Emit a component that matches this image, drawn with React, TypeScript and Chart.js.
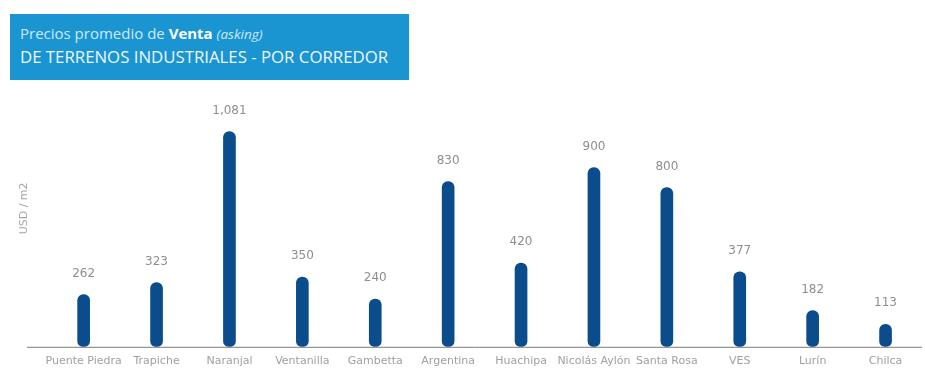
import React, { useEffect, useRef } from "react";
import { Chart, registerables } from "chart.js";

Chart.register(...registerables);

const categories = [
  "Puente Piedra",
  "Trapiche",
  "Naranjal",
  "Ventanilla",
  "Gambetta",
  "Argentina",
  "Huachipa",
  "Nicolás Aylón",
  "Santa Rosa",
  "VES",
  "Lurín",
  "Chilca",
];

const prices = [262, 323, 1081, 350, 240, 830, 420, 900, 800, 377, 182, 113];

const yAxisTitle = "USD / m2";

const BAR_COLOR = "#0b4d8c";
const LABEL_COLOR = "#8e8e8e";

const valueLabels = {
  id: "valueLabels",
  afterDatasetsDraw(chart: any) {
    const ctx = chart.ctx;
    const meta = chart.getDatasetMeta(0);
    ctx.save();
    ctx.font = "12px 'DejaVu Sans'";
    ctx.fillStyle = LABEL_COLOR;
    ctx.textAlign = "center";
    ctx.textBaseline = "middle";
    meta.data.forEach((bar: any, i: number) => {
      const v = chart.data.datasets[0].data[i] as number;
      ctx.fillText(v.toLocaleString("en-US"), bar.x, bar.y - 21);
    });
    ctx.restore();
  },
};

const baseLine = {
  id: "baseLine",
  afterDraw(chart: any) {
    const ctx = chart.ctx;
    const { right, bottom } = chart.chartArea;
    ctx.save();
    ctx.strokeStyle = "#7a7a7a";
    ctx.lineWidth = 1;
    ctx.beginPath();
    ctx.moveTo(27, bottom + 0.5);
    ctx.lineTo(right, bottom + 0.5);
    ctx.stroke();
    ctx.restore();
  },
};

export default function App() {
  const ref = useRef<HTMLCanvasElement>(null);

  useEffect(() => {
    document.body.style.margin = "0";
    const chart = new Chart(ref.current!, {
      type: "bar",
      data: {
        labels: categories,
        datasets: [
          {
            data: prices,
            backgroundColor: BAR_COLOR,
            barThickness: 12,
            borderRadius: 6,
            borderSkipped: false,
          },
        ],
      },
      options: {
        responsive: false,
        animation: false,
        devicePixelRatio: 1,
        layout: { padding: { top: 70, left: 13, right: 3, bottom: -2 } },
        plugins: {
          legend: { display: false },
          tooltip: { enabled: false },
        },
        scales: {
          x: {
            grid: { display: false, drawTicks: false },
            border: { display: false },
            ticks: {
              autoSkip: false,
              maxRotation: 0,
              minRotation: 0,
              padding: 8,
              color: "#a0a0a0",
              font: { family: "'DejaVu Sans'", size: 11 },
            },
          },
          y: {
            min: 0,
            max: 1390,
            grid: { display: false, drawTicks: false },
            border: { display: false },
            ticks: { display: false },
            title: {
              display: true,
              text: yAxisTitle,
              color: "#a5a5a5",
              font: { family: "'DejaVu Sans'", size: 11 },
              padding: { top: 5, bottom: 16 },
            },
          },
        },
      },
      plugins: [valueLabels, baseLine],
    });
    return () => chart.destroy();
  }, []);

  return (
    <div style={{ position: "relative", width: 925, height: 374, background: "#fff" }}>
      <canvas
        ref={ref}
        width={925}
        height={374}
        style={{ position: "absolute", left: 0, top: 0 }}
      />
      <div
        style={{
          position: "absolute",
          left: 10,
          top: 14,
          width: 399,
          height: 66,
          background: "#1b94d2",
          boxSizing: "border-box",
          paddingLeft: 10,
          paddingTop: 8,
          fontFamily: "'Open Sans', sans-serif",
          whiteSpace: "nowrap",
        }}
      >
        <div style={{ height: 22, lineHeight: "22px", fontSize: 15, color: "#cdeaf8" }}>
          Precios promedio de <b style={{ color: "#ffffff" }}>Venta</b>{" "}
          <i style={{ fontSize: 13.5 }}>(asking)</i>
        </div>
        <div
          style={{
            marginTop: 1,
            height: 24,
            lineHeight: "24px",
            fontSize: 16.8,
            color: "#eef8fd",
          }}
        >
          DE TERRENOS INDUSTRIALES - POR CORREDOR
        </div>
      </div>
    </div>
  );
}
